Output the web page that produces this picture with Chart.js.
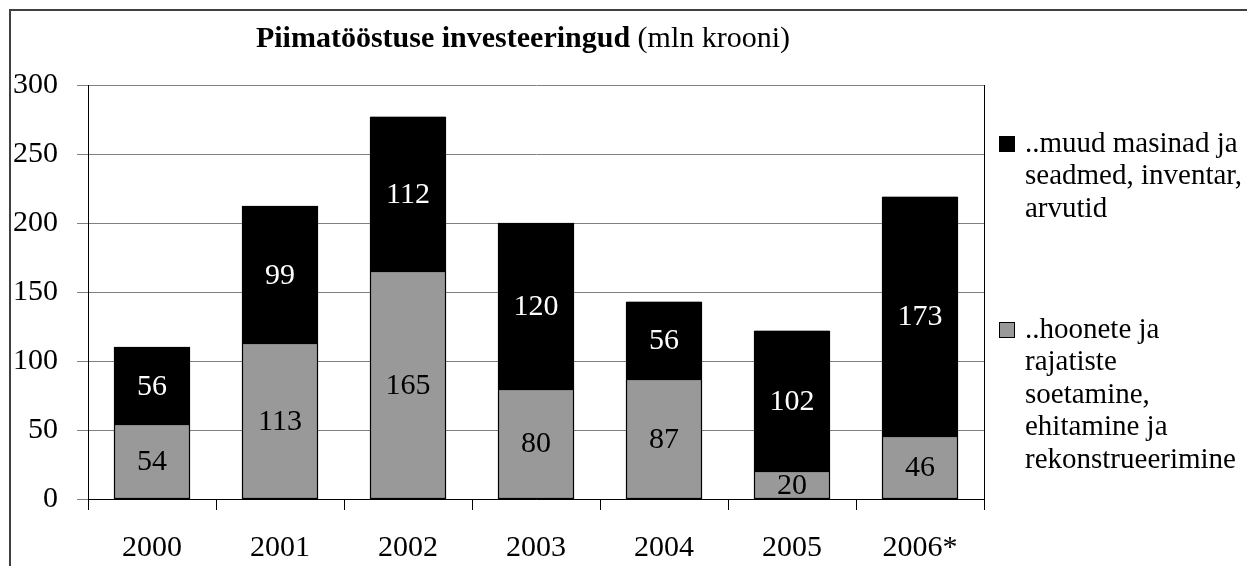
<!DOCTYPE html>
<html>
<head>
<meta charset="utf-8">
<script src="https://cdn.jsdelivr.net/npm/chart.js@4.4.1/dist/chart.umd.min.js"></script>
<style>
html,body{margin:0;padding:0;background:#fff;}
#wrap{position:relative;width:1247px;height:566px;}
</style>
</head>
<body>
<div id="wrap"><canvas id="c"></canvas></div>
<script>
const categories = ['2000', '2001', '2002', '2003', '2004', '2005', '2006*'];
const buildingsValues = [54, 113, 165, 80, 87, 20, 46];
const machineryValues = [56, 99, 112, 120, 56, 102, 173];
const yTicks = [0, 50, 100, 150, 200, 250, 300];
const seriesNames = ['..hoonete ja rajatiste soetamine, ehitamine ja rekonstrueerimine', '..muud masinad ja seadmed, inventar, arvutid'];
const legendLines = [
  ['..muud masinad ja', 'seadmed, inventar,', 'arvutid'],
  ['..hoonete ja', 'rajatiste', 'soetamine,', 'ehitamine ja', 'rekonstrueerimine']
];
const titleBold = 'Piimatööstuse investeeringud';
const titleNormal = ' (mln krooni)';

const SERIF = '"Liberation Serif", "Times New Roman", serif';
const GRAY = '#999999';

const decorPlugin = {
  id: 'decor',
  beforeDraw(chart) {
    const ctx = chart.ctx;
    ctx.save();
    ctx.fillStyle = '#fff';
    ctx.fillRect(0, 0, chart.width, chart.height);
    ctx.strokeStyle = '#404040';
    ctx.lineWidth = 2;
    ctx.beginPath();
    ctx.moveTo(10, chart.height + 5);
    ctx.lineTo(10, 10);
    ctx.lineTo(chart.width + 5, 10);
    ctx.stroke();
    ctx.restore();
  },
  afterDraw(chart) {
    const ctx = chart.ctx;
    const a = chart.chartArea;
    ctx.save();
    ctx.strokeStyle = '#000';
    ctx.lineWidth = 1;
    ctx.beginPath();
    ctx.moveTo(Math.round(a.right) + 0.5, a.top);
    ctx.lineTo(Math.round(a.right) + 0.5, a.bottom);
    ctx.stroke();

    ctx.fillStyle = '#000';
    ctx.textBaseline = 'alphabetic';
    const bf = 'bold 30px ' + SERIF, nf = '30px ' + SERIF;
    ctx.font = bf; const wb = ctx.measureText(titleBold).width;
    ctx.font = nf; const wn = ctx.measureText(titleNormal).width;
    let x0 = 523 - (wb + wn) / 2;
    ctx.font = bf; ctx.textAlign = 'left'; ctx.fillText(titleBold, x0, 47);
    ctx.font = nf; ctx.fillText(titleNormal, x0 + wb, 47);

    const items = [
      { color: '#000', lines: legendLines[0], y: 144 },
      { color: GRAY, lines: legendLines[1], y: 330 }
    ];
    ctx.font = '29px ' + SERIF;
    ctx.textBaseline = 'middle';
    items.forEach(it => {
      ctx.fillStyle = it.color;
      ctx.fillRect(999, it.y - 8, 16, 16);
      ctx.strokeStyle = '#000';
      ctx.lineWidth = 1;
      ctx.strokeRect(999.5, it.y - 7.5, 15, 15);
      ctx.fillStyle = '#000';
      it.lines.forEach((l, i) => ctx.fillText(l, 1025, it.y + i * 32.5));
    });
    ctx.restore();
  }
};

const labelPlugin = {
  id: 'barLabels',
  afterDatasetsDraw(chart) {
    const ctx = chart.ctx;
    ctx.save();
    // crisp bar outlines
    ctx.strokeStyle = '#000';
    ctx.lineWidth = 1.2;
    chart.data.datasets.forEach((ds, di) => {
      const meta = chart.getDatasetMeta(di);
      meta.data.forEach(el => {
        const p = el.getProps(['x', 'y', 'base', 'width'], true);
        const l = Math.round(p.x - p.width / 2) + 0.5, r = Math.round(p.x + p.width / 2) - 0.5;
        const t = Math.round(Math.min(p.y, p.base)) + 0.5, b = Math.round(Math.max(p.y, p.base)) - 0.5;
        ctx.strokeRect(l, t, r - l, b - t);
      });
    });
    ctx.font = '30px ' + SERIF;
    ctx.textAlign = 'center';
    ctx.textBaseline = 'middle';
    chart.data.datasets.forEach((ds, di) => {
      const meta = chart.getDatasetMeta(di);
      ctx.fillStyle = di === 1 ? '#fff' : '#000';
      meta.data.forEach((el, i) => {
        const p = el.getProps(['x', 'y', 'base'], true);
        ctx.fillText(String(ds.data[i]), p.x, (p.y + p.base) / 2 + 1);
      });
    });
    ctx.restore();
  }
};

new Chart(document.getElementById('c'), {
  type: 'bar',
  data: {
    labels: categories,
    datasets: [
      { label: seriesNames[0], data: buildingsValues, backgroundColor: GRAY, borderWidth: 0, barPercentage: 0.586, categoryPercentage: 1 },
      { label: seriesNames[1], data: machineryValues, backgroundColor: '#000', borderWidth: 0, barPercentage: 0.586, categoryPercentage: 1 }
    ]
  },
  options: {
    responsive: true,
    maintainAspectRatio: false,
    animation: false,
    events: [],
    layout: { padding: { left: 0, top: 85, right: 263, bottom: 0 } },
    plugins: { legend: { display: false }, title: { display: false }, tooltip: { enabled: false } },
    scales: {
      x: {
        stacked: true,
        grid: { display: true, drawOnChartArea: false, drawTicks: true, tickLength: 11, color: '#000', offset: true },
        border: { display: true, color: '#000', width: 1 },
        ticks: { color: '#000', font: { family: SERIF, size: 30 }, padding: 20, maxRotation: 0 },
        afterFit(s) { s.height = 67; }
      },
      y: {
        stacked: true,
        min: 0, max: 300,
        afterBuildTicks(s) { s.ticks = yTicks.map(v => ({ value: v })); },
        grid: { color: '#808080', lineWidth: 1, drawTicks: true, tickLength: 11 },
        border: { display: true, color: '#000', width: 1 },
        ticks: { color: '#000', font: { family: SERIF, size: 30 }, padding: 19 },
        afterFit(s) { s.width = 88; }
      }
    }
  },
  plugins: [decorPlugin, labelPlugin]
});
</script>
</body>
</html>
